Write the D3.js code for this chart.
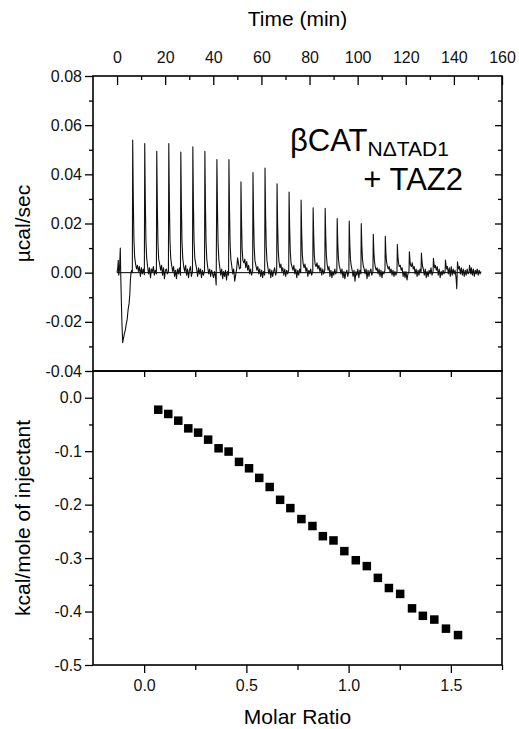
<!DOCTYPE html>
<html><head><meta charset="utf-8">
<script src="https://cdn.jsdelivr.net/npm/d3@7"></script>
<style>
html,body{margin:0;padding:0;background:#fff;}
svg{display:block;font-family:"Liberation Sans",Arial,Helvetica,sans-serif;}
</style></head>
<body><svg id="c" width="519" height="729"></svg>
<script>
// ---- data ----
const timeTicks = [0,20,40,60,80,100,120,140,160];
const powerTicks = [-0.04,-0.02,0,0.02,0.04,0.06,0.08];
const molarTicks = [0,0.5,1.0,1.5];
const enthalpyTicks = [-0.5,-0.4,-0.3,-0.2,-0.1,0.0];

// raw thermogram trace [time (min), µcal/sec]
const trace = [
[0,0],[0.3,.002],[0.5,.005],[0.7,-.001],[1.0,.001],[1.35,.0100],[1.55,-.002],[2.0,-.020],[2.35,-.0285],[2.6,-.027],[3.0,-.025],[3.4,-.0235],[3.8,-.021],[4.2,-.019],[4.6,-.015],[5.0,-.0125],[5.3,-.009],[5.55,-.003],[5.8,0],[6.1,.001],[6.35,0],
[6.5,.0539],[6.75,.030],[7,.014],[7.3,.0065],[7.7,.0035],[8.1,.0015],[8.5,.003],[8.9,.0005],[9.3,.0025],[9.7,-.0015],[10.1,.002],[10.5,-.0005],[10.9,.0015],[11.35,-.0008],
[11.5,.0525],[11.75,.029],[12,.013],[12.3,.006],[12.7,.0025],[13.1,-.0005],[13.5,.002],[13.9,-.002],[14.3,.0015],[14.7,.0005],[15.1,.0025],[15.5,-.001],[15.9,.001],[16.35,-.0005],
[16.5,.0494],[16.75,.027],[17,.012],[17.3,.0055],[17.7,.0035],[18.1,.001],[18.5,.003],[18.9,-.001],[19.3,.002],[19.7,-.0025],[20.1,.001],[20.5,.0015],[20.9,-.0005],[21.35,.0005],
[21.5,.0525],[21.75,.029],[22,.013],[22.3,.006],[22.7,.003],[23.1,.0005],[23.5,.0025],[23.9,-.0015],[24.3,.001],[24.7,-.0025],[25.1,.0015],[25.5,-.0005],[25.9,.002],[26.35,-.001],
[26.5,.0491],[26.75,.027],[27,.0125],[27.3,.006],[27.7,.0025],[28.1,.0005],[28.5,.003],[28.9,-.001],[29.3,.0015],[29.7,-.002],[30.1,.001],[30.5,.0025],[30.9,-.0015],[31.35,.0005],
[31.5,.0512],[31.75,.028],[32,.013],[32.3,.006],[32.7,.0035],[33.1,.0015],[33.5,-.0015],[33.9,.002],[34.3,-.0005],[34.7,.0015],[35.1,-.002],[35.5,.001],[35.9,-.001],[36.35,.0005],
[36.5,.0494],[36.75,.027],[37,.012],[37.3,.0055],[37.7,.002],[38.1,-.0005],[38.5,.0015],[38.9,-.0015],[39.3,.001],[39.7,-.0005],[40.1,-.002],[40.5,.0005],[40.9,-.0015],[41.2,-.0050],
[41.5,.046],[41.75,.025],[42,.0115],[42.3,.0055],[42.7,.002],[43.1,-.001],[43.5,.0015],[43.9,-.0025],[44.3,.0005],[44.7,-.0015],[45.1,.001],[45.5,-.003],[45.9,.0005],[46.35,-.001],
[46.5,.046],[46.75,.025],[47,.0115],[47.3,.0055],[47.7,.0025],[48.1,-.0005],[48.5,.0015],[48.9,-.0035],[49.3,-.001],[49.7,.0015],[50.1,.006],[50.5,.0035],[50.9,.0015],[51.35,.002],
[51.5,.037],[51.75,.020],[52,.0095],[52.3,.005],[52.7,.004],[53.1,.0055],[53.5,.002],[53.9,.0045],[54.3,.001],[54.7,.003],[55.1,-.0005],[55.5,.0015],[55.9,-.001],[56.35,.0005],
[56.5,.0407],[56.75,.022],[57,.0105],[57.3,.005],[57.7,.003],[58.1,.001],[58.5,.0025],[58.9,-.0005],[59.3,.0015],[59.7,-.0015],[60.1,.001],[60.5,-.002],[60.9,.0005],[61.35,-.001],
[61.5,.0426],[61.75,.023],[62,.011],[62.3,.005],[62.7,.002],[63.1,-.0005],[63.5,.0015],[63.9,-.002],[64.3,.001],[64.7,-.0015],[65.1,.0005],[65.5,.002],[65.9,-.001],[66.35,.0005],
[66.5,.0362],[66.75,.0195],[67,.009],[67.3,.0045],[67.7,.002],[68.1,.0035],[68.5,.0005],[68.9,.002],[69.3,-.001],[69.7,.0015],[70.1,-.0015],[70.5,.001],[70.9,-.0005],[71.35,.001],
[71.5,.0328],[71.75,.018],[72,.0085],[72.3,.004],[72.7,.0025],[73.1,.001],[73.5,.003],[73.9,-.0005],[74.3,.0015],[74.7,-.002],[75.1,.001],[75.5,-.001],[75.9,.0015],[76.35,0],
[76.5,.0295],[76.75,.016],[77,.0075],[77.3,.004],[77.7,.002],[78.1,.0035],[78.5,.0005],[78.9,.002],[79.3,-.0015],[79.7,.001],[80.1,-.0005],[80.5,.0015],[80.9,-.001],[81.35,.0005],
[81.5,.0264],[81.75,.0145],[82,.007],[82.3,.0035],[82.7,.0025],[83.1,.004],[83.5,.0015],[83.9,.003],[84.3,.0005],[84.7,.002],[85.1,-.001],[85.5,.0015],[85.9,-.0005],[86.35,.001],
[86.5,.0262],[86.75,.0145],[87,.007],[87.3,.0035],[87.7,.001],[88.1,.0025],[88.5,-.0015],[88.9,.001],[89.3,-.002],[89.7,.0005],[90.1,-.001],[90.5,.0015],[90.9,-.0005],[91.35,.0005],
[91.5,.022],[91.75,.012],[92,.006],[92.3,.003],[92.7,.0015],[93.1,-.0005],[93.5,.0015],[93.9,-.002],[94.3,.0005],[94.7,-.0025],[95.1,0],[95.5,.001],[95.9,-.0015],[96.35,.0005],
[96.5,.021],[96.75,.0115],[97,.0055],[97.3,.003],[97.7,.001],[98.1,-.0015],[98.5,.001],[98.9,-.0035],[99.3,.0005],[99.7,-.001],[100.1,.0015],[100.5,-.002],[100.9,.001],[101.35,-.0005],
[101.5,.020],[101.75,.011],[102,.0055],[102.3,.003],[102.7,.0015],[103.1,-.0005],[103.5,.0015],[103.9,-.0025],[104.3,.001],[104.7,-.0015],[105.1,.0005],[105.5,.0015],[105.9,-.001],[106.35,.0005],
[106.5,.0156],[106.75,.0085],[107,.0045],[107.3,.0025],[107.7,.001],[108.1,.002],[108.5,-.0005],[108.9,.0015],[109.3,-.0015],[109.7,.001],[110.1,-.002],[110.5,.0005],[110.9,-.0005],[111.35,.001],
[111.5,.0148],[111.75,.008],[112,.0045],[112.3,.003],[112.7,.0015],[113.1,.0025],[113.5,0],[113.9,.0015],[114.3,-.001],[114.7,.001],[115.1,-.0015],[115.5,.0005],[115.9,-.001],[116.35,.0005],
[116.5,.0114],[116.75,.0065],[117,.004],[117.3,.0025],[117.7,.003],[118.1,.001],[118.5,.002],[118.9,-.0015],[119.3,.0005],[119.7,-.002],[120.1,.0005],[120.5,-.003],[120.9,-.0005],[121.35,.0005],
[121.5,.0085],[121.75,.005],[122,.003],[122.3,.0025],[122.7,.004],[123.1,.0015],[123.5,.0025],[123.9,-.0005],[124.3,.0015],[124.7,-.0015],[125.1,.001],[125.5,-.001],[125.9,.0015],[126.35,0],
[126.5,.008],[126.75,.0045],[127,.0025],[127.3,.0015],[127.7,-.001],[128.1,.0015],[128.5,-.002],[128.9,.0005],[129.3,-.0015],[129.7,.001],[130.1,-.0005],[130.5,.002],[130.9,-.001],[131.35,.0005],
[131.5,.0058],[131.75,.0035],[132,.002],[132.3,.003],[132.7,.001],[133.1,.0025],[133.5,-.001],[133.9,.0015],[134.3,-.002],[134.7,.0005],[135.1,-.001],[135.5,.001],[135.9,-.0005],[136.35,.0005],
[136.5,.0051],[136.75,.003],[137,.0015],[137.3,.0025],[137.7,-.0005],[138.1,.002],[138.5,-.0015],[138.9,.0025],[139.3,-.001],[139.7,.0015],[140.1,-.0005],[140.5,.001],[140.9,-.002],[141.2,-.0065],
[141.5,.0044],[141.75,.0025],[142,.0015],[142.3,.0025],[142.7,-.0005],[143.1,.002],[143.5,-.001],[143.9,.0015],[144.3,-.0015],[144.7,.001],[145.1,-.001],[145.5,.0015],[145.9,-.0005],[146.35,.0005],
[146.5,.003],[146.75,.0015],[147,-.0005],[147.3,.002],[147.7,-.001],[148.1,.0015],[148.5,-.0015],[148.9,.001],[149.3,-.0005],[149.7,.0015],[150.1,-.001],[150.5,.001],[150.9,-.0005],[151.3,.0005]
];
const baselineRange = [0, 151.3];

// integrated heats
const molarRatio = [0.069,0.118,0.167,0.216,0.264,0.313,0.364,0.413,0.464,0.513,0.563,0.614,0.665,0.715,0.769,0.823,0.874,0.926,0.979,1.035,1.089,1.143,1.197,1.252,1.310,1.363,1.419,1.476,1.535];
const heat = [-0.0224,-0.0304,-0.0429,-0.0573,-0.0653,-0.0784,-0.0946,-0.1007,-0.120,-0.132,-0.150,-0.167,-0.191,-0.2065,-0.227,-0.240,-0.259,-0.267,-0.287,-0.304,-0.315,-0.337,-0.356,-0.367,-0.394,-0.408,-0.415,-0.432,-0.444];

// ---- layout ----
const L = 93, R = 502, T = 76, M = 371, B = 665;
const svg = d3.select("#c");
const xTime = d3.scaleLinear([-10,160],[L,R]);
const yTop = d3.scaleLinear([-0.04,0.08],[M,T]);
const xMR = d3.scaleLinear([-0.25,1.75],[L,R]);
const yBot = d3.scaleLinear([-0.5,0.05],[B,M]);
const FS = 16;

function styleAxis(g){
  g.select(".domain").remove();
  g.selectAll("line").attr("stroke","#000").attr("stroke-width",1.3);
  g.selectAll("text").attr("font-size",FS).attr("fill","#111").attr("font-family",'"Liberation Sans",Arial,sans-serif');
}
function ax(axis, size, vals, fmt, pad){
  return axis.tickValues(vals).tickSizeInner(size).tickSizeOuter(0).tickPadding(pad||5)
    .tickFormat(fmt || (()=>""));
}
const range = (a,b,s)=>d3.range(Math.round((b-a)/s)+1).map(i=>+(a+i*s).toFixed(4));

// top panel: time axis (top, inward ticks)
svg.append("g").attr("transform",`translate(0,${T})`)
  .call(ax(d3.axisTop(xTime),-9,timeTicks,d=>String(d),13)).call(styleAxis);
svg.append("g").attr("transform",`translate(0,${T})`)
  .call(ax(d3.axisTop(xTime),-4,range(10,150,20))).call(styleAxis);
// top panel left (outward)
svg.append("g").attr("transform",`translate(${L},0)`)
  .call(ax(d3.axisLeft(yTop),8,powerTicks,d=>d.toFixed(2),3)).call(styleAxis);
svg.append("g").attr("transform",`translate(${L},0)`)
  .call(ax(d3.axisLeft(yTop),4,range(-0.03,0.07,0.02))).call(styleAxis);
// top panel right (inward)
svg.append("g").attr("transform",`translate(${R},0)`)
  .call(ax(d3.axisRight(yTop),-7,powerTicks.slice(1,-1))).call(styleAxis);
svg.append("g").attr("transform",`translate(${R},0)`)
  .call(ax(d3.axisRight(yTop),-4,range(-0.03,0.07,0.02))).call(styleAxis);

// bottom panel: bottom axis (outward)
svg.append("g").attr("transform",`translate(0,${B})`)
  .call(ax(d3.axisBottom(xMR),8,molarTicks,d=>d.toFixed(1),7)).call(styleAxis);
svg.append("g").attr("transform",`translate(0,${B})`)
  .call(ax(d3.axisBottom(xMR),5,[0.25,0.75,1.25,1.75])).call(styleAxis);
// bottom panel top (inward)
svg.append("g").attr("transform",`translate(0,${M})`)
  .call(ax(d3.axisTop(xMR),-6,range(0,1.5,0.25))).call(styleAxis);
// bottom panel left (outward)
svg.append("g").attr("transform",`translate(${L},0)`)
  .call(ax(d3.axisLeft(yBot),8,enthalpyTicks,d=>d.toFixed(1),3)).call(styleAxis);
svg.append("g").attr("transform",`translate(${L},0)`)
  .call(ax(d3.axisLeft(yBot),4,range(-0.45,-0.05,0.1))).call(styleAxis);
// bottom panel right (inward)
svg.append("g").attr("transform",`translate(${R},0)`)
  .call(ax(d3.axisRight(yBot),-6,range(-0.45,0,0.05))).call(styleAxis);

// frames
svg.append("rect").attr("x",L).attr("y",T).attr("width",R-L).attr("height",M-T)
  .attr("fill","none").attr("stroke","#000").attr("stroke-width",1.6);
svg.append("rect").attr("x",L).attr("y",M).attr("width",R-L).attr("height",B-M)
  .attr("fill","none").attr("stroke","#000").attr("stroke-width",1.6);

// baseline
svg.append("line").attr("x1",xTime(baselineRange[0])).attr("x2",xTime(baselineRange[1]))
  .attr("y1",yTop(0)).attr("y2",yTop(0)).attr("stroke","#000").attr("stroke-width",1);
// trace
svg.append("path").datum(trace)
  .attr("d",d3.line().x(d=>xTime(d[0])).y(d=>yTop(d[1])))
  .attr("fill","none").attr("stroke","#111").attr("stroke-width",1.1).attr("stroke-linejoin","round");

// squares
const S = 8.5;
svg.append("g").selectAll("rect").data(molarRatio).join("rect")
  .attr("x",(d)=>xMR(d)-S/2).attr("y",(d,i)=>yBot(heat[i])-S/2)
  .attr("width",S).attr("height",S).attr("fill","#000");

// titles
svg.append("text").attr("x",(L+R)/2).attr("y",26).attr("text-anchor","middle")
  .attr("font-size",21).text("Time (min)");
svg.append("text").attr("x",(L+R)/2).attr("y",724).attr("text-anchor","middle")
  .attr("font-size",21).text("Molar Ratio");
svg.append("text").attr("transform",`translate(30,${(T+M)/2}) rotate(-90)`).attr("text-anchor","middle")
  .attr("font-size",21).text("µcal/sec");
svg.append("text").attr("transform",`translate(30,${(M+B)/2}) rotate(-90)`).attr("text-anchor","middle")
  .attr("font-size",21).text("kcal/mole of injectant");

// annotation
const ann = svg.append("text").attr("x",290).attr("y",151).attr("font-size",31);
ann.append("tspan").text("βCAT");
ann.append("tspan").attr("font-size",21).attr("dy",5).text("NΔTAD1");
svg.append("text").attr("x",463).attr("y",190).attr("text-anchor","end").attr("font-size",31).text("+ TAZ2");
</script></body></html>
